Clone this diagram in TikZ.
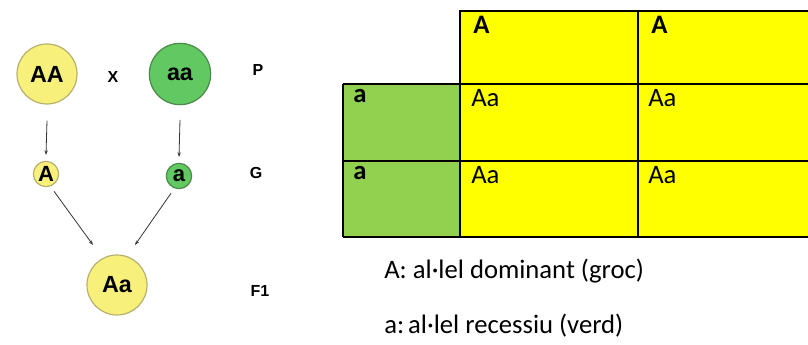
\documentclass[tikz,border=0pt]{standalone}
\usepackage{fontspec}
\setmainfont{Carlito}
\newfontfamily\arialfont{Liberation Sans}
\usetikzlibrary{arrows.meta}
\definecolor{circyellow}{HTML}{F7F07A}
\definecolor{circyellowedge}{HTML}{B8B070}
\definecolor{circgreen}{HTML}{62C862}
\definecolor{circgreenedge}{HTML}{4A8A4A}
\definecolor{cellyellow}{HTML}{FFFF00}
\definecolor{cellgreen}{HTML}{92D050}
\tikzset{
  yellowcirc/.style={circle, draw=circyellowedge, line width=0.9pt, fill=circyellow, inner sep=0pt, text=black},
  greencirc/.style={circle, draw=circgreenedge, line width=0.9pt, fill=circgreen, inner sep=0pt, text=black},
  bigtext/.style={font=\arialfont\bfseries\fontsize{17.5}{17.5}\selectfont},
  smalltext/.style={font=\arialfont\bfseries\fontsize{16.5}{16.5}\selectfont},
  genlabel/.style={font=\arialfont\bfseries\fontsize{12}{12}\selectfont},
  cross/.style={-{Stealth[length=3.5pt,width=2.5pt]}, draw=black!80, line width=0.6pt},
  cellbox/.style={draw=black, line width=1pt},
  celltext/.style={anchor=north west, inner sep=0pt, font=\fontsize{20}{20}\selectfont},
  cellhead/.style={celltext, font=\bfseries\fontsize{20}{20}\selectfont},
  legend/.style={anchor=west, inner sep=0pt, font=\fontsize{20}{20}\selectfont}
}
\begin{document}
\begin{tikzpicture}[x=0.75pt, y=-0.75pt]
\useasboundingbox (0,0) rectangle (808,345);

% parents
\node[yellowcirc, minimum size=45pt, bigtext] (pAA) at (47,74) {AA};
\node[greencirc, minimum size=46pt, bigtext] (paa) at (180,74) {aa};
\node[genlabel] (x) at (113,77) {X};
\node[genlabel] (lp) at (258,70) {P};

% gametes
\node[yellowcirc, minimum size=19pt, smalltext] (gA) at (46,174) {A};
\node[greencirc, minimum size=19pt, smalltext] (ga) at (179,176) {a};
\node[genlabel] (lg) at (256,173) {G};

% offspring
\node[yellowcirc, minimum size=45pt, bigtext] (fAa) at (117,285) {Aa};
\node[genlabel] (lf) at (260,291) {F1};

% arrows
\coordinate (pAAend) at (46,155);
\coordinate (paaend) at (179,157);
\coordinate (gAend) at (93,245);
\coordinate (gaend) at (135,245);
\draw[cross] ([yshift=-12pt]pAA.south) -- (pAAend);
\draw[cross] ([yshift=-11pt]paa.south) -- (paaend);
\draw[cross] ([xshift=6pt, yshift=-3pt]gA.south) -- (gAend);
\draw[cross] ([xshift=-6pt, yshift=-3pt]ga.south) -- (gaend);

% Punnett square
\path[fill=cellyellow] (460,11) rectangle (816,237);
\path[fill=cellgreen] (343,84) rectangle (460,237);
\draw[cellbox] (460,84) -- (460,11) -- (816,11);
\draw[cellbox] (638,11) -- (638,237);
\draw[cellbox] (343,84) -- (816,84);
\draw[cellbox] (343,161) -- (816,161);
\draw[cellbox] (343,237) -- (816,237);
\draw[cellbox] (343,84) -- (343,237);
\draw[cellbox] (460,84) -- (460,237);

\node[cellhead] (hA1) at (473,16) {A};
\node[cellhead] (hA2) at (651,16) {A};
\node[cellhead] (ra1) at (353,89) {a};
\node[cellhead] (ra2) at (353,166) {a};
\node[celltext] (c11) at (471,89) {Aa};
\node[celltext] (c12) at (648,89) {Aa};
\node[celltext] (c21) at (471,166) {Aa};
\node[celltext] (c22) at (648,166) {Aa};

% legend
\node[legend] (lA) at (384,271) {A: al·lel dominant (groc)};
\node[legend] (la) at (384,326) {a:\hspace{-0.15em} al·lel recessiu (verd)};
\end{tikzpicture}
\end{document}
